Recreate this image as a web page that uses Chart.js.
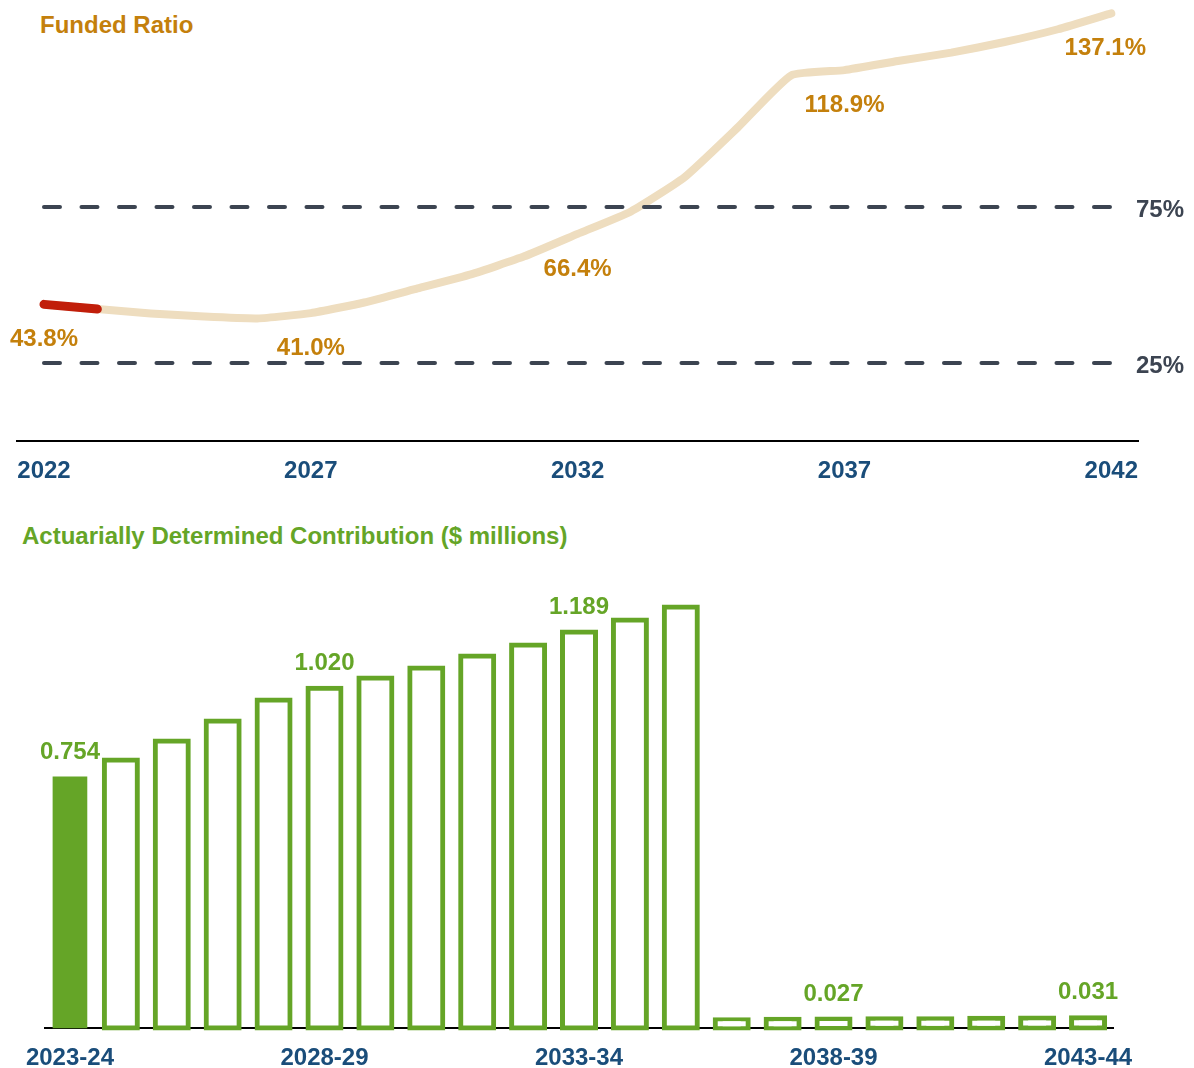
<!DOCTYPE html>
<html><head><meta charset="utf-8">
<script src="https://cdn.jsdelivr.net/npm/chart.js@4.4.1/dist/chart.umd.min.js"></script>
<style>
html,body{margin:0;padding:0;background:#fff;width:1194px;height:1068px;overflow:hidden;}
.t{position:absolute;font-family:"Liberation Sans",Arial,sans-serif;font-weight:bold;font-size:24px;line-height:24px;white-space:nowrap;}
#c1wrap{position:absolute;left:0;top:0;width:1194px;height:490px;}
#c2wrap{position:absolute;left:0;top:560px;width:1194px;height:508px;}
canvas{display:block;}
</style></head><body>
<div class="t" style="left:40px;top:13px;color:#C4800C">Funded Ratio</div>
<div class="t" style="left:22px;top:524px;color:#65A527">Actuarially Determined Contribution ($ millions)</div>
<div id="c1wrap"><canvas id="c1" width="1194" height="490"></canvas></div>
<div id="c2wrap"><canvas id="c2" width="1194" height="508"></canvas></div>
<script>
// ---- Funded ratio (top) ----
const years = [2022,2023,2024,2025,2026,2027,2028,2029,2030,2031,2032,2033,2034,2035,2036,2037,2038,2039,2040,2041,2042];
const fundedRatio = [43.8,42.3,40.9,39.9,39.3,41.0,44.4,48.9,53.4,59.2,66.4,73.6,84.5,100.5,117.2,118.9,121.8,124.5,127.9,132.0,137.1];
const actualYears = [2022,2023];
const actualRatio = [43.8,42.3];
const thresholdLevels = [75,25];
const thresholdLabels = ['75%','25%'];
const yearTicks = [2022,2027,2032,2037,2042];
const ratioLabelYears = [2022,2027,2032,2037,2042];

// ---- Actuarially Determined Contribution (bottom) ----
const fiscalYears = ['2023-24','2024-25','2025-26','2026-27','2027-28','2028-29','2029-30','2030-31','2031-32','2032-33','2033-34','2034-35','2035-36','2036-37','2037-38','2038-39','2039-40','2040-41','2041-42','2042-43','2043-44'];
const adcActual =    [0.754,null,null,null,null,null,null,null,null,null,null,null,null,null,null,null,null,null,null,null,null];
const adcProjected = [null,0.805,0.862,0.922,0.985,1.020,1.051,1.081,1.117,1.150,1.189,1.225,1.264,0.025,0.026,0.027,0.028,0.028,0.029,0.030,0.031];
const adcTickLabels = ['2023-24','2028-29','2033-34','2038-39','2043-44'];

const FONT = '"Liberation Sans", Arial, sans-serif';
const GOLD = '#C4800C', BEIGE = '#EEDDBF', RED = '#C11E0A', DASH = '#3C4451', BLUE = '#1A4D7A', GREEN = '#65A527';

const ratioLabels = {
  id: 'ratioLabels',
  afterDatasetsDraw(chart) {
    const {ctx, scales: {x, y}} = chart;
    ctx.save();
    ctx.font = 'bold 24px ' + FONT;
    ctx.textAlign = 'center';
    ctx.textBaseline = 'middle';
    ctx.fillStyle = GOLD;
    ratioLabelYears.forEach(yr => {
      const v = fundedRatio[years.indexOf(yr)];
      let px = x.getPixelForValue(yr);
      const w = ctx.measureText(v.toFixed(1) + '%').width;
      px = Math.min(px, chart.width - 48 - w / 2);
      ctx.fillText(v.toFixed(1) + '%', px, y.getPixelForValue(v) + 35);
    });
    ctx.fillStyle = DASH;
    ctx.textAlign = 'right';
    thresholdLevels.forEach((lv, k) => {
      ctx.fillText(thresholdLabels[k], chart.width - 10, y.getPixelForValue(lv) + 3);
    });
    ctx.restore();
  }
};

const thresholdDatasets = thresholdLevels.map(lv => ({
  data: [{x: years[0], y: lv}, {x: years[years.length - 1], y: lv}],
  borderColor: DASH, borderWidth: 4, borderDash: [16, 21.5], borderCapStyle: 'round',
  pointRadius: 0, order: 1, clip: false
}));

new Chart(document.getElementById('c1'), {
  type: 'line',
  data: {
    datasets: [
      {data: actualYears.map((yr, i) => ({x: yr, y: actualRatio[i]})), borderColor: RED, borderWidth: 9,
       borderCapStyle: 'round', pointRadius: 0, order: 0, clip: false},
      ...thresholdDatasets,
      {data: years.map((yr, i) => ({x: yr, y: fundedRatio[i]})), borderColor: BEIGE, borderWidth: 8,
       borderCapStyle: 'round', borderJoinStyle: 'round', pointRadius: 0, tension: 0.15, order: 2, clip: false}
    ]
  },
  options: {
    responsive: false, animation: false,
    layout: {padding: {left: 17.3, right: 56, top: 4.3, bottom: 0}},
    plugins: {legend: {display: false}, tooltip: {enabled: false}},
    scales: {
      x: {
        type: 'linear', min: 2021.5, max: 2042.5,
        afterBuildTicks(s) { s.ticks = yearTicks.map(v => ({value: v})); },
        afterFit(s) { s.height = 49; },
        grid: {display: false, drawTicks: false},
        border: {display: true, color: '#000', width: 2},
        ticks: {padding: 15.6, maxRotation: 0, autoSkip: false, color: BLUE,
                font: {family: FONT, size: 24, weight: 'bold'}, callback: v => String(v)}
      },
      y: {display: false, min: 0, max: 140}
    }
  },
  plugins: [ratioLabels]
});

const adcLabels = {
  id: 'adcLabels',
  afterDatasetsDraw(chart) {
    const {ctx} = chart;
    ctx.save();
    ctx.font = 'bold 24px ' + FONT;
    ctx.textAlign = 'center';
    ctx.textBaseline = 'middle';
    ctx.fillStyle = GREEN;
    adcTickLabels.forEach(lbl => {
      const i = fiscalYears.indexOf(lbl);
      const ds = adcActual[i] != null ? 0 : 1;
      const v = ds === 0 ? adcActual[i] : adcProjected[i];
      const el = chart.getDatasetMeta(ds).data[i];
      ctx.fillText(v.toFixed(3), el.x, el.y - 25);
    });
    ctx.restore();
  }
};

new Chart(document.getElementById('c2'), {
  type: 'bar',
  data: {
    labels: fiscalYears,
    datasets: [
      {label: 'Actual', data: adcActual, backgroundColor: GREEN, borderWidth: 0,
       barThickness: 34, grouped: false, order: 0, clip: false},
      {label: 'Projected', data: adcProjected, backgroundColor: '#fff', borderColor: GREEN, borderWidth: 5,
       inflateAmount: 2.5, borderSkipped: false, barThickness: 33, grouped: false, order: 1, clip: false}
    ]
  },
  options: {
    responsive: false, animation: false,
    layout: {padding: {left: 44.5, right: 80.5, top: 18.45, bottom: 0}},
    plugins: {legend: {display: false}, tooltip: {enabled: false}},
    scales: {
      x: {
        z: 1,
        afterFit(s) { s.height = 40; },
        grid: {display: false, drawTicks: false},
        border: {display: true, color: '#000', width: 2},
        ticks: {padding: 15.6, maxRotation: 0, autoSkip: false, color: BLUE,
                font: {family: FONT, size: 24, weight: 'bold'},
                callback: (v, i) => adcTickLabels.includes(fiscalYears[i]) ? fiscalYears[i] : ''}
      },
      y: {display: false, min: 0, max: 1.35}
    }
  },
  plugins: [adcLabels]
});
</script>
</body></html>
